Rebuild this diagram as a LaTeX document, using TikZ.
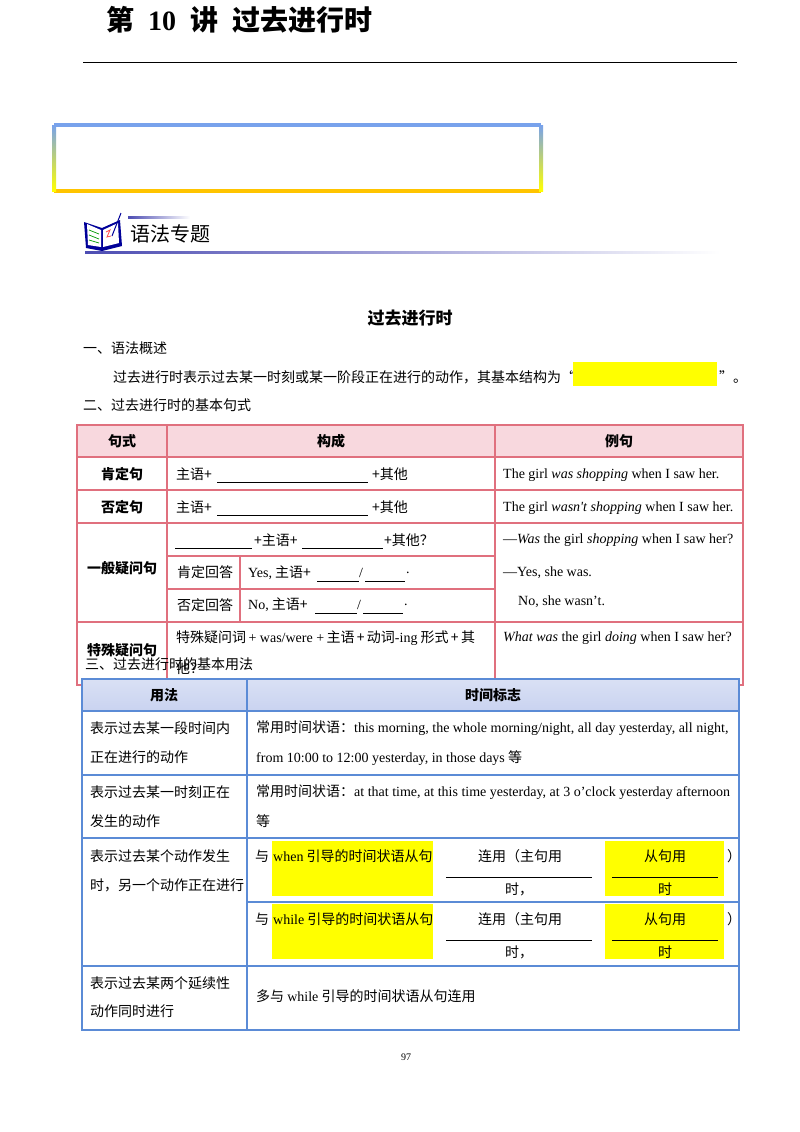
\documentclass[tikz,border=0pt]{standalone}
\usepackage{fontspec}
\setmainfont{Noto Sans CJK SC}
\newfontfamily\enf{Liberation Serif}
\newcommand\en[1]{{\enf #1}}
\definecolor{pinkb}{HTML}{E0707E}
\definecolor{pinkf}{HTML}{F8D8DE}
\definecolor{blueb}{HTML}{5B8BD6}
\definecolor{bluef}{HTML}{C9D3F0}
\definecolor{hl}{HTML}{FFFF00}
\definecolor{topb}{HTML}{78A2EC}
\definecolor{botb}{HTML}{FFC400}
\begin{document}
\begin{tikzpicture}[x=1pt,y=-1pt,
  t/.style={anchor=west,inner sep=0pt,font=\fontsize{14}{16}\selectfont},
  tc/.style={inner sep=0pt,font=\fontsize{14}{16}\selectfont},
  tb/.style={inner sep=0pt,font=\fontsize{14}{16}\selectfont\bfseries},
  pk/.style={draw=pinkb,line width=1.3pt},
  bl/.style={draw=blueb,line width=1.3pt},
  ul/.style={line width=0.8pt}]
\useasboundingbox (0,0) rectangle (800,1132);
\fill[white] (0,0) rectangle (800,1132);
% title
\node[anchor=west,inner sep=0pt,font=\fontsize{28}{30}\selectfont\bfseries] (title) at (106,20) {第\hspace{14pt}\en{\bfseries 10}\hspace{14pt}讲\hspace{14pt}过去进行时};
\draw[line width=0.8pt] (83,62) -- (737,62);
% gradient box
\draw[line width=4pt,color=topb] (54,125) -- (541,125);
\draw[line width=4pt,color=botb] (54,191) -- (541,191);
\shade[top color=topb,bottom color=yellow] (52,125) rectangle (56,191);
\shade[top color=topb,bottom color=yellow] (539,125) rectangle (543,191);
% icon
\fill[blue!60!black] (84,222) -- (102,228) -- (120,220) -- (122,246) -- (102,251) -- (86,248) -- cycle;
\fill[white] (87,224) -- (101,230) -- (101,247) -- (88,245) -- cycle;
\fill[white] (103,230) -- (118,223) -- (119,243) -- (103,247) -- cycle;
\draw[green!60!black,line width=0.7pt] (89,230) -- (99,234) (89,235) -- (99,239) (89,240) -- (99,243);
\draw[red!70,line width=0.8pt] (106,232) -- (110,230) -- (107,237) -- (111,236);
\draw[blue!60!black,line width=1pt] (112,236) -- (121,213);
\shade[left color=blue!40!gray,right color=white] (128,216) rectangle (190,218);
\node[anchor=west,inner sep=0pt,font=\fontsize{20}{22}\selectfont] (sec) at (130,234) {语法专题};
\shade[left color=blue!40!gray,right color=white] (85,251) rectangle (720,253.5);
% heading
\node[inner sep=0pt,font=\fontsize{17}{19}\selectfont\bfseries] (h) at (410,318) {过去进行时};
\node[t] (s1) at (83,348) {一、语法概述};
\node[t] (p1) at (113,377) {过去进行时表示过去某一时刻或某一阶段正在进行的动作，其基本结构为“};
\fill[hl] (573,362) rectangle (717,386);
\node[t] (p2) at (719,377) {”。};
\node[t] (s2) at (83,405) {二、过去进行时的基本句式};
% table 1
\fill[pinkf] (77,425) rectangle (743,457);
\draw[pk] (77,425) rectangle (743,685);
\foreach \y in {457,490,523,622} \draw[pk] (77,\y) -- (743,\y);
\draw[pk] (167,556) -- (495,556) (167,589) -- (495,589);
\draw[pk] (167,425) -- (167,685) (495,425) -- (495,685) (240,556) -- (240,622);
\node[tb] (a0) at (122,441) {句式};
\node[tb] (b0) at (331,441) {构成};
\node[tb] (c0) at (619,441) {例句};
\node[tb] (a1) at (122,474) {肯定句};
\node[tb] (a2) at (122,507) {否定句};
\node[tb] (a3) at (122,568) {一般疑问句};
\node[tb] (a4) at (122,650) {特殊疑问句};
\node[t] (b1) at (176,474) {主语+};
\draw[ul] (217,482) -- (368,482);
\node[t] (b1e) at (372,474) {+其他};
\node[t] (b2) at (176,507) {主语+};
\draw[ul] (217,515) -- (368,515);
\node[t] (b2e) at (372,507) {+其他};
\draw[ul] (175,548) -- (252,548) (302,548) -- (383,548);
\node[t] (b3a) at (254,540) {+主语+};
\node[t] (b3b) at (384,540) {+其他？};
\node[t] (b4) at (177,572) {肯定回答};
\node[t] (b4r) at (248,573) {\en{Yes,} 主语+};
\draw[ul] (317,581) -- (359,581) (365,581) -- (405,581);
\node[t] (b4s) at (359,573) {\en{/}};
\node[t] (b4d) at (406,573) {\en{.}};
\node[t] (b5) at (177,605) {否定回答};
\node[t] (b5r) at (248,605) {\en{No,} 主语+};
\draw[ul] (315,613) -- (357,613) (363,613) -- (403,613);
\node[t] (b5s) at (357,605) {\en{/}};
\node[t] (b5d) at (404,605) {\en{.}};
\node[t] (b6) at (176,638) {特殊疑问词\,\en{+ was/were +}\,主语\,+\,动词\en{-ing} 形式\,+\,其};
\node[t] (b6b) at (176,668) {他？};
\node[t] (c1) at (503,475) {\en{The girl \textit{was shopping} when I saw her.}};
\node[t] (c2) at (503,508) {\en{The girl \textit{wasn't shopping} when I saw her.}};
\node[t] (c3) at (503,540) {\en{—\textit{Was} the girl \textit{shopping} when I saw her?}};
\node[t] (c4) at (503,573) {\en{—Yes, she was.}};
\node[t] (c5) at (518,602) {\en{No, she wasn’t.}};
\node[t] (c6) at (503,638) {\en{\textit{What was} the girl \textit{doing} when I saw her?}};
\node[t] (s3) at (85,664) {三、过去进行时的基本用法};
% table 2
\shade[top color=bluef!70!white,bottom color=bluef] (82,679) rectangle (739,711);
\draw[bl] (82,679) rectangle (739,1030);
\foreach \y in {711,775,838,966} \draw[bl] (82,\y) -- (739,\y);
\draw[bl] (247,902) -- (739,902);
\draw[bl] (247,679) -- (247,1030);
\node[tb] (u0) at (164,695) {用法};
\node[tb] (v0) at (493,695) {时间标志};
\node[t] (u1) at (90,728) {表示过去某一段时间内};
\node[t] (u1b) at (90,757) {正在进行的动作};
\node[t] (u2) at (90,792) {表示过去某一时刻正在};
\node[t] (u2b) at (90,821) {发生的动作};
\node[t] (u3) at (90,856) {表示过去某个动作发生};
\node[t] (u3b) at (90,885) {时，另一个动作正在进行};
\node[t] (u5) at (90,983) {表示过去某两个延续性};
\node[t] (u5b) at (90,1011) {动作同时进行};
\node[t] (v1) at (256,728) {常用时间状语：\en{this morning, the whole morning/night, all day yesterday, all night,}};
\node[t] (v1b) at (256,758) {\en{from 10:00 to 12:00 yesterday, in those days} 等};
\node[t] (v2) at (256,792) {常用时间状语：\en{at that time, at this time yesterday, at 3 o’clock yesterday afternoon}};
\node[t] (v2b) at (256,821) {等};
\foreach \o/\w in {0/when,63/while}{
  \fill[hl] (272,841+\o) rectangle (433,896+\o);
  \fill[hl] (605,841+\o) rectangle (724,896+\o);
  \node[t] at (255,856+\o) {与};
  \node[t] at (273,856+\o) {\en{\w} 引导的时间状语从句};
  \node[tc] at (520,856+\o) {连用（主句用};
  \draw[ul] (446,877+\o) -- (592,877+\o);
  \node[tc] at (519,889+\o) {时，};
  \node[tc] at (665,856+\o) {从句用};
  \draw[ul] (612,877+\o) -- (718,877+\o);
  \node[tc] at (665,889+\o) {时};
  \node[t] at (727,856+\o) {）};
}
\node[t] (v5) at (256,996) {多与 \en{while} 引导的时间状语从句连用};
\node[inner sep=0pt,font=\fontsize{10}{12}\selectfont] (pg) at (406,1057) {\en{97}};
\end{tikzpicture}
\end{document}
